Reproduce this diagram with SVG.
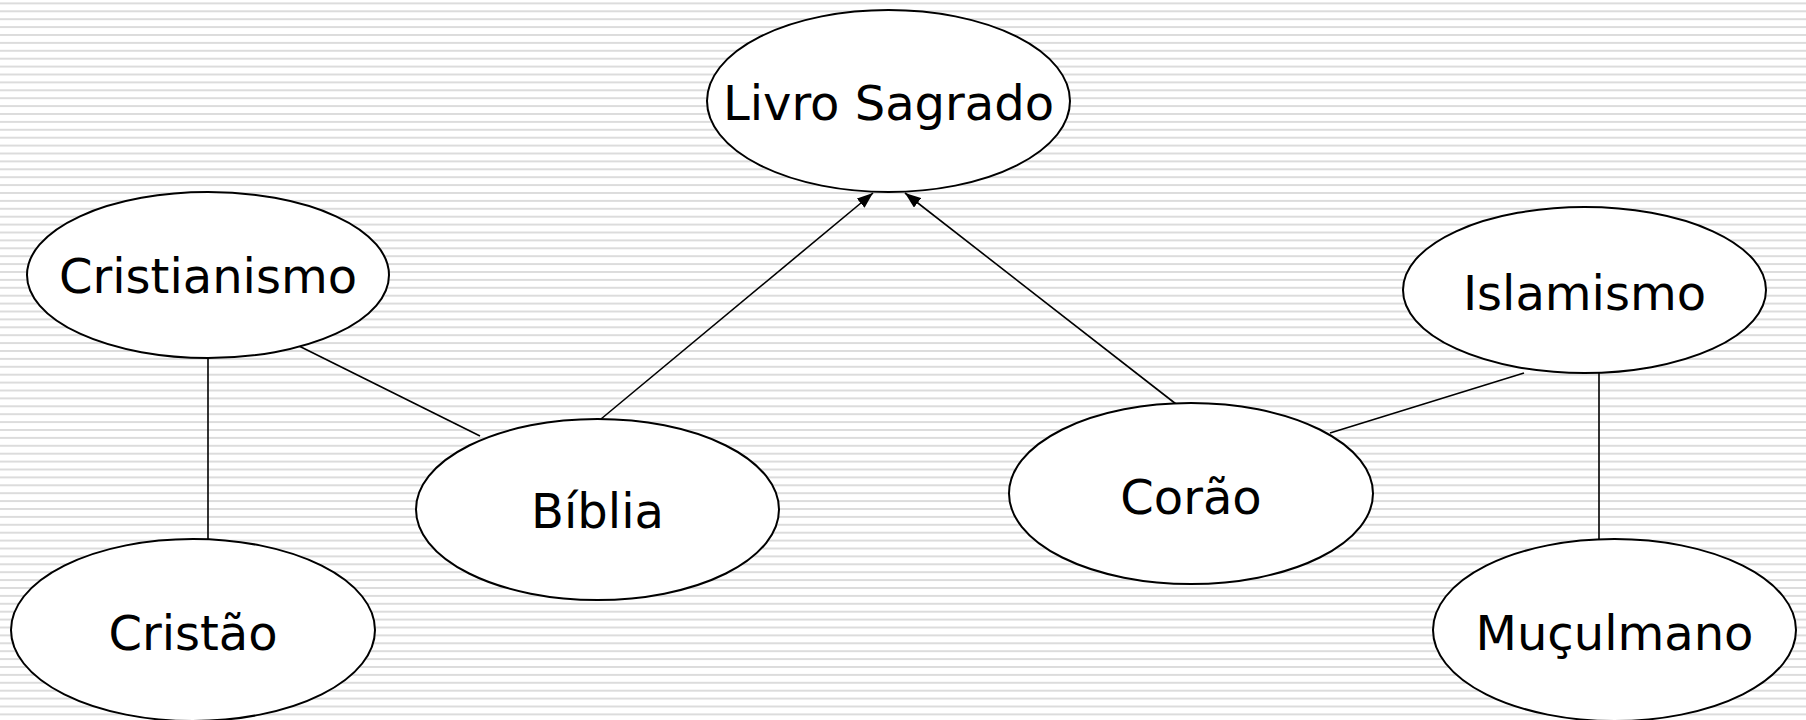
<svg xmlns="http://www.w3.org/2000/svg" width="1806" height="720" viewBox="0 0 1806 720">
<defs>
<pattern id="stripes" x="0" y="2.4" width="20" height="7.9" patternUnits="userSpaceOnUse">
<rect x="0" y="0" width="20" height="2" fill="#dcdcdc"/>
</pattern>
<marker id="arrow" viewBox="0 0 10 10" refX="10" refY="5" markerWidth="10" markerHeight="10" markerUnits="userSpaceOnUse" orient="auto">
<path d="M0,0 L10,5 L0,10 Z" fill="#000"/>
</marker>
<marker id="arrowL" viewBox="0 0 16 12" refX="16" refY="6" markerWidth="16" markerHeight="12" markerUnits="userSpaceOnUse" orient="auto">
<path d="M0,0 L16,6 L0,12 Z" fill="#000"/>
</marker>
</defs>
<style>
.node ellipse { fill: #fff; stroke: #000; stroke-width: 2; }
.node text { font-family: "DejaVu Sans", Verdana, sans-serif; font-size: 48px; fill: #000; text-anchor: middle; }
.edges line { stroke: #000; stroke-width: 1.6; fill: none; }
</style>
<rect x="0" y="0" width="1806" height="720" fill="#fff"/>
<rect x="0" y="0" width="1806" height="720" fill="url(#stripes)"/>
<g class="edges" id="connectors">
<line x1="208" y1="358" x2="208" y2="539"/>
<line x1="299" y1="346" x2="480" y2="436"/>
<line x1="601" y1="419" x2="873" y2="193" marker-end="url(#arrowL)"/>
<line x1="1176" y1="404" x2="905" y2="193" marker-end="url(#arrowL)"/>
<line x1="1524" y1="373" x2="1330" y2="433"/>
<line x1="1599" y1="373" x2="1599" y2="539"/>
</g>
<g class="node" id="livro-sagrado">
<ellipse cx="888.5" cy="101" rx="181.5" ry="91"/>
<text x="888.5" y="120">Livro Sagrado</text>
</g>
<g class="node" id="cristianismo">
<ellipse cx="208" cy="275" rx="181" ry="83"/>
<text x="208" y="293">Cristianismo</text>
</g>
<g class="node" id="biblia">
<ellipse cx="597.5" cy="509.5" rx="181.5" ry="90.5"/>
<text x="597.5" y="528">Bíblia</text>
</g>
<g class="node" id="corao">
<ellipse cx="1191" cy="493.5" rx="182" ry="90.5"/>
<text x="1191" y="514">Corão</text>
</g>
<g class="node" id="islamismo">
<ellipse cx="1584.5" cy="290" rx="181.5" ry="83"/>
<text x="1584.5" y="310">Islamismo</text>
</g>
<g class="node" id="cristao">
<ellipse cx="193" cy="630" rx="182" ry="91"/>
<text x="193" y="650">Cristão</text>
</g>
<g class="node" id="muculmano">
<ellipse cx="1614.5" cy="630" rx="181.5" ry="91"/>
<text x="1614.5" y="650">Muçulmano</text>
</g>
</svg>
